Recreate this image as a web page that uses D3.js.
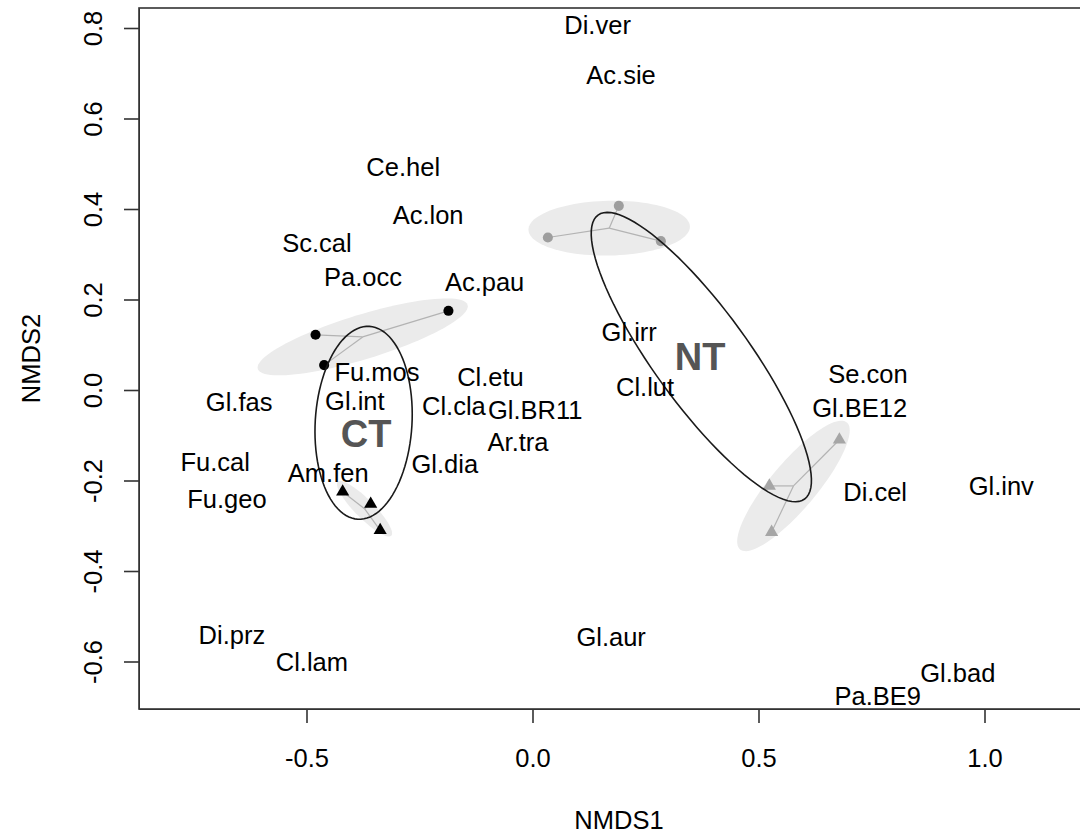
<!DOCTYPE html>
<html>
<head>
<meta charset="utf-8">
<script src="https://cdn.jsdelivr.net/npm/d3@7"></script>
<style>
  body { margin: 0; background: #fff; overflow: hidden; }
  text { font-family: "Liberation Sans", Arial, sans-serif; }
</style>
</head>
<body>
<div class="chart"></div>
<script>
var width = 1080,
height = 834,
plot = {left: 139, top: 8, right: 1099, bottom: 709};

// axis ticks
var xTicks = [-0.5, 0.0, 0.5, 1.0];
var yTicks = [-0.6, -0.4, -0.2, 0.0, 0.2, 0.4, 0.6, 0.8];

// species scores (labels only)
var species = ["Di.ver", "Ac.sie", "Ce.hel", "Ac.lon", "Sc.cal", "Pa.occ", "Ac.pau",
  "Fu.mos", "Gl.int", "Cl.etu", "Cl.cla", "Gl.BR11", "Ar.tra", "Gl.dia", "Gl.fas",
  "Fu.cal", "Fu.geo", "Am.fen", "Di.prz", "Cl.lam", "Gl.irr", "Cl.lut", "Se.con",
  "Gl.BE12", "Di.cel", "Gl.inv", "Gl.bad", "Pa.BE9", "Gl.aur"];
var speciesX = [0.144, 0.196, -0.286, -0.231, -0.477, -0.375, -0.106,
  -0.344, -0.393, -0.093, -0.174, 0.006, -0.032, -0.194, -0.649,
  -0.702, -0.676, -0.452, -0.665, -0.488, 0.214, 0.249, 0.742,
  0.724, 0.758, 1.037, 0.941, 0.764, 0.174];
var speciesY = [0.808, 0.696, 0.493, 0.387, 0.325, 0.250, 0.239,
  0.040, -0.024, 0.029, -0.035, -0.044, -0.115, -0.164, -0.027,
  -0.159, -0.241, -0.183, -0.541, -0.601, 0.128, 0.007, 0.035,
  -0.040, -0.225, -0.212, -0.625, -0.676, -0.546];

// site scores
var siteX = [-0.480, -0.461, -0.186, -0.420, -0.358, -0.337,
  0.034, 0.191, 0.284, 0.679, 0.524, 0.529];
var siteY = [0.122, 0.055, 0.175, -0.225, -0.252, -0.310,
  0.337, 0.407, 0.329, -0.110, -0.212, -0.314];
var siteSub = ["CT1", "CT1", "CT1", "CT2", "CT2", "CT2",
  "NT1", "NT1", "NT1", "NT2", "NT2", "NT2"];
var siteTreat = ["CT", "CT", "CT", "CT", "CT", "CT",
  "NT", "NT", "NT", "NT", "NT", "NT"];

var subgroups = ["CT1", "CT2", "NT1", "NT2"];
var treatments = ["CT", "NT"];
var treatLabelX = [-0.368, 0.371];
var treatLabelY = [-0.095, 0.075];

// styles
var subShape = {CT1: d3.symbolCircle, CT2: d3.symbolTriangle, NT1: d3.symbolCircle, NT2: d3.symbolTriangle};
var subSize = {CT1: 80, CT2: 75, NT1: 80, NT2: 75};
var subColor = {CT1: "#000", CT2: "#000", NT1: "#9e9e9e", NT2: "#a6a6a6"};

var x = d3.scaleLinear()
  .domain([(plot.left - 532.5) / 452, (plot.right - 532.5) / 452])
  .range([plot.left, plot.right]);
var y = d3.scaleLinear()
  .domain([(390 - plot.bottom) / 452.5, (390 - plot.top) / 452.5])
  .range([plot.bottom, plot.top]);

// R style labels: plain hyphen for the minus sign
var fmt = function(d) { return d3.format(".1f")(d).replace("\u2212", "-"); };

var svg = d3.select(".chart").append("svg")
  .attr("width", width)
  .attr("height", height);

var sites = siteX.map(function(d, i) {
  return {x: d, y: siteY[i], sub: siteSub[i], treat: siteTreat[i]};
});

// covariance ellipse (vegan style): kind sd -> cov, se -> cov / n
function ellipse(pts, kind, chi) {
  var n = pts.length;
  var mx = d3.mean(pts, function(p) { return p.x; });
  var my = d3.mean(pts, function(p) { return p.y; });
  var sxx = 0, syy = 0, sxy = 0;
  pts.forEach(function(p) {
    sxx += (p.x - mx) * (p.x - mx);
    syy += (p.y - my) * (p.y - my);
    sxy += (p.x - mx) * (p.y - my);
  });
  sxx /= (n - 1); syy /= (n - 1); sxy /= (n - 1);
  if (kind == "se") { sxx /= n; syy /= n; sxy /= n; }
  var tr = sxx + syy, det = sxx * syy - sxy * sxy;
  var disc = Math.sqrt(Math.max(tr * tr / 4 - det, 0));
  var l1 = tr / 2 + disc, l2 = tr / 2 - disc;
  var ang = Math.atan2(l1 - sxx, sxy);
  if (Math.abs(sxy) < 1e-12) ang = sxx >= syy ? 0 : Math.PI / 2;
  var a = chi * Math.sqrt(l1), b = chi * Math.sqrt(Math.max(l2, 0));
  return {cx: mx, cy: my, path: d3.range(0, 101).map(function(k) {
    var t = k / 100 * 2 * Math.PI;
    return [mx + a * Math.cos(t) * Math.cos(ang) - b * Math.sin(t) * Math.sin(ang),
            my + a * Math.cos(t) * Math.sin(ang) + b * Math.sin(t) * Math.cos(ang)];
  })};
}

var line = d3.line()
  .x(function(d) { return x(d[0]); })
  .y(function(d) { return y(d[1]); });

var chi95 = Math.sqrt(5.991); // qchisq(0.95, 2)

var plotArea = svg.append("g");

// shaded se ellipses + spiders
var subInfo = subgroups.map(function(s) {
  var pts = sites.filter(function(p) { return p.sub == s; });
  return {sub: s, pts: pts, ell: ellipse(pts, "se", chi95)};
});

plotArea.selectAll(".se-ellipse")
  .data(subInfo)
  .enter()
  .append("path")
  .attr("class", "se-ellipse")
  .attr("d", function(d) { return line(d.ell.path) + "Z"; })
  .style("fill", "#ebebeb")
  .style("stroke", "none");

subInfo.forEach(function(g) {
  plotArea.selectAll(".spider-" + g.sub)
    .data(g.pts)
    .enter()
    .append("line")
    .attr("x1", function(d) { return x(d.x); })
    .attr("y1", function(d) { return y(d.y); })
    .attr("x2", x(g.ell.cx))
    .attr("y2", y(g.ell.cy))
    .style("stroke", "#b3b3b3")
    .style("stroke-width", 1.2);
});

plotArea.selectAll(".site")
  .data(sites)
  .enter()
  .append("path")
  .attr("class", "site")
  .attr("transform", function(d) { return "translate(" + x(d.x) + "," + y(d.y) + ")"; })
  .attr("d", function(d) { return d3.symbol().type(subShape[d.sub]).size(subSize[d.sub])(); })
  .style("fill", function(d) { return subColor[d.sub]; });

// sd ellipses per treatment
var treatInfo = treatments.map(function(t) {
  var pts = sites.filter(function(p) { return p.treat == t; });
  return {treat: t, ell: ellipse(pts, "sd", 1)};
});

plotArea.selectAll(".sd-ellipse")
  .data(treatInfo)
  .enter()
  .append("path")
  .attr("class", "sd-ellipse")
  .attr("d", function(d) { return line(d.ell.path) + "Z"; })
  .style("fill", "none")
  .style("stroke", "#1a1a1a")
  .style("stroke-width", 1.6);

// species labels
plotArea.selectAll(".species")
  .data(species)
  .enter()
  .append("text")
  .attr("class", "species")
  .text(function(d) { return d; })
  .attr("x", function(d, i) { return x(speciesX[i]); })
  .attr("y", function(d, i) { return y(speciesY[i]); })
  .attr("dy", "0.36em")
  .attr("text-anchor", "middle")
  .attr("font-size", "25.5px")
  .style("fill", "#000");

plotArea.selectAll(".treat")
  .data(treatments)
  .enter()
  .append("text")
  .attr("class", "treat")
  .text(function(d) { return d; })
  .attr("x", function(d, i) { return x(treatLabelX[i]); })
  .attr("y", function(d, i) { return y(treatLabelY[i]); })
  .attr("dy", "0.36em")
  .attr("text-anchor", "middle")
  .attr("font-size", "38px")
  .attr("font-weight", "bold")
  .style("fill", "#555");

// axes
var xAxis = svg.append("g")
  .attr("transform", "translate(0," + plot.bottom + ")")
  .call(d3.axisBottom(x).tickValues(xTicks).tickSize(14).tickSizeOuter(0)
    .tickFormat(fmt));
xAxis.selectAll("text")
  .attr("y", 58)
  .attr("dy", 0)
  .attr("font-size", "25.5px")
  .style("fill", "#000");

var yAxis = svg.append("g")
  .attr("transform", "translate(" + plot.left + ",0)")
  .call(d3.axisLeft(y).tickValues(yTicks).tickSize(15).tickSizeOuter(0)
    .tickFormat(fmt));
yAxis.selectAll("text")
  .attr("transform", "rotate(-90)")
  .attr("x", 0)
  .attr("y", -37)
  .attr("dy", 0)
  .attr("text-anchor", "middle")
  .attr("font-size", "25.5px")
  .style("fill", "#000");

svg.selectAll(".domain").style("stroke", "#333");
svg.selectAll(".tick line").style("stroke", "#333").style("stroke-width", 1.6);

svg.append("rect")
  .attr("x", plot.left)
  .attr("y", plot.top)
  .attr("width", plot.right - plot.left)
  .attr("height", plot.bottom - plot.top)
  .style("fill", "none")
  .style("stroke", "#333")
  .style("stroke-width", 1.6);

svg.append("text")
  .text("NMDS1")
  .attr("x", (plot.left + plot.right) / 2)
  .attr("y", 829)
  .attr("text-anchor", "middle")
  .attr("font-size", "25.5px");

svg.append("text")
  .text("NMDS2")
  .attr("transform", "translate(40," + (plot.top + plot.bottom) / 2 + ") rotate(-90)")
  .attr("text-anchor", "middle")
  .attr("font-size", "25.5px");
</script>
</body>
</html>
